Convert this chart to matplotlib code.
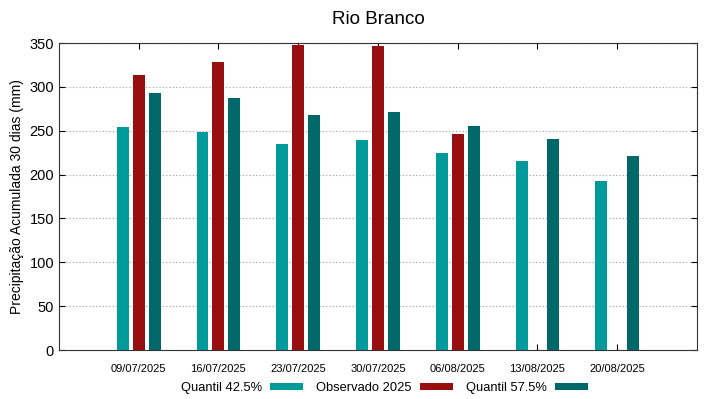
import numpy as np
import matplotlib.pyplot as plt

plt.rcParams['font.family'] = ['Liberation Sans', 'DejaVu Sans']

datas = ['09/07/2025', '16/07/2025', '23/07/2025', '30/07/2025',
         '06/08/2025', '13/08/2025', '20/08/2025']
q425 = [254, 249, 235, 239, 225, 216, 193]
obs = [313.5, 329, 348, 347, 246, np.nan, np.nan]
q575 = [293, 287, 268, 271, 255, 241, 221]

cor_q425 = '#009a9a'
cor_obs = '#990f0f'
cor_q575 = '#006868'

x = np.arange(len(datas))
w = 0.15
off = 0.2

fig = plt.figure(figsize=(7.19, 3.99), dpi=100)
ax = fig.add_axes([0.082, 0.1228, 0.8874, 0.7692])

ax.bar(x - off, q425, width=w, color=cor_q425, label='Quantil 42.5%', zorder=3)
ax.bar(x, obs, width=w, color=cor_obs, label='Observado 2025', zorder=3)
ax.bar(x + off, q575, width=w, color=cor_q575, label='Quantil 57.5%', zorder=3)

ax.set_xlim(-1, 7)
ax.set_ylim(0, 350)
ax.set_xticks(x)
ax.set_xticklabels(datas, fontsize=8)
ax.set_yticks(np.arange(0, 351, 50))
ax.tick_params(axis='y', labelsize=10.5, direction='in', right=True, length=4)
ax.tick_params(axis='x', direction='in', top=True, length=4, pad=10)
ax.grid(axis='y', color='#999999', linestyle=(0, (1, 2)), linewidth=0.8, zorder=0)
for s in ax.spines.values():
    s.set_color('#333333')

ax.set_ylabel('Precipitação Acumulada 30 dias (mm)', fontsize=10)
ax.set_title('Rio Branco', fontsize=13.5, pad=14)

fig.legend(loc='center', bbox_to_anchor=(0.535, 0.028), ncol=3, frameon=False,
           markerfirst=False, fontsize=9.3, handlelength=2.6, handleheight=0.5,
           handletextpad=0.6, columnspacing=1.0)

fig.savefig('out.png', dpi=100)
